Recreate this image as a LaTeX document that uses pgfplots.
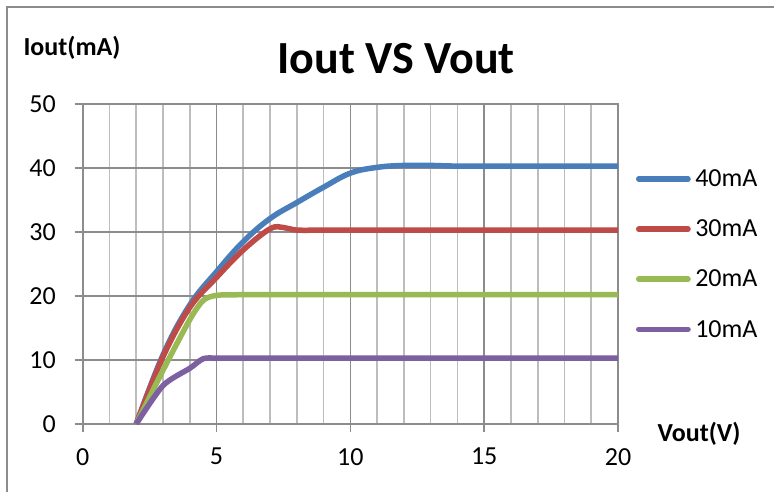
\documentclass[border=0pt]{standalone}
\usepackage{fontspec}
\setmainfont{Carlito}
\usepackage{pgfplots}
\pgfplotsset{compat=1.18}
\definecolor{axgray}{HTML}{8C8C8C}
\definecolor{gridlight}{HTML}{BDBDBD}
\definecolor{cA}{HTML}{4A7EBB}
\definecolor{cB}{HTML}{BE4B48}
\definecolor{cC}{HTML}{98B954}
\definecolor{cD}{HTML}{7D60A0}
\begin{document}
\begin{tikzpicture}
\useasboundingbox (0,0) rectangle (774pt,491pt);
\clip (0,0) rectangle (774pt,491pt);
\fill[white] (0,0) rectangle (774pt,491pt);
\draw[axgray, line width=2pt] (7pt,-20pt) rectangle (800pt,484pt);
\begin{axis}[
  at={(82.7pt,67pt)}, anchor=south west,
  scale only axis, width=535.3pt, height=320pt,
  xmin=0, xmax=20, ymin=0, ymax=50,
  xtick={0,5,...,20}, ytick={0,10,...,50},
  minor x tick num=4,
  grid=both,
  major grid style={axgray, line width=1.7pt},
  minor grid style={gridlight, line width=1.7pt},
  axis line style={axgray, line width=1.7pt},
  tick style={axgray, line width=1.7pt},
  major tick length=8pt, minor tick length=0pt,
  tick align=outside, tick pos=left,
  /pgf/number format/assume math mode=true,
  ticklabel style={font=\fontsize{26pt}{30pt}\selectfont, inner sep=0pt},
  yticklabel style={anchor=east, xshift=-18.7pt},
  xticklabel style={anchor=north, yshift=-16pt},
  legend cell align=left,
  legend style={at={(axis description cs:1.0336,0.794)}, anchor=north west,
    draw=none, fill=none, inner sep=0pt, outer sep=0pt,
    row sep=31.7pt, font=\fontsize{26pt}{30pt}\selectfont,
    nodes={inner sep=0pt, outer sep=0pt},
    /tikz/every odd column/.append style={column sep=4.5pt}},
  legend image code/.code={\draw[#1, line cap=round, line width=5.5pt] (2.7pt,0pt) -- (52pt,0pt);},
]
\addplot[cA, line width=5.5pt, smooth, tension=0.65, line join=round] coordinates {
 (2,0) (3,10.8) (4,18.6) (5,23.8) (6,28.5) (7,32.1) (8,34.6) (9,37.0) (10,39.2) (11,40.1) (12,40.4) (13,40.4) (14,40.3) (16,40.3) (18,40.3) (20,40.3)};
\addlegendentry{40mA}
\addplot[cB, line width=5.5pt, smooth, tension=0.6, line join=round] coordinates {
 (2,0) (3,10.5) (4,18.2) (5,22.9) (6,27.2) (7,30.5) (7.5,30.7) (8,30.3) (9,30.3) (10,30.3) (12,30.3) (14,30.3) (16,30.3) (18,30.3) (20,30.3)};
\addlegendentry{30mA}
\addplot[cC, line width=5.5pt, smooth, tension=0.45, line join=round] coordinates {
 (2,0) (3,8.4) (4,16.3) (4.5,19.3) (5,20.1) (6,20.2) (8,20.2) (10,20.2) (12,20.2) (14,20.2) (16,20.2) (18,20.2) (20,20.2)};
\addlegendentry{20mA}
\addplot[cD, line width=5.5pt, smooth, tension=0.45, line join=round] coordinates {
 (2,0) (3,6.0) (4,8.7) (4.5,10.2) (5,10.3) (6,10.3) (8,10.3) (10,10.3) (12,10.3) (14,10.3) (16,10.3) (18,10.3) (20,10.3)};
\addlegendentry{10mA}
\end{axis}
\node[anchor=base, font=\fontsize{46pt}{50pt}\selectfont\bfseries, inner sep=0pt] at (396pt,417.7pt) {Iout VS Vout};
\node[anchor=base, font=\fontsize{26pt}{30pt}\selectfont\bfseries, inner sep=0pt] at (72pt,435pt) {Iout(mA)};
\node[anchor=base, font=\fontsize{26pt}{30pt}\selectfont\bfseries, inner sep=0pt] at (699pt,49.3pt) {Vout(V)};
\end{tikzpicture}
\end{document}
